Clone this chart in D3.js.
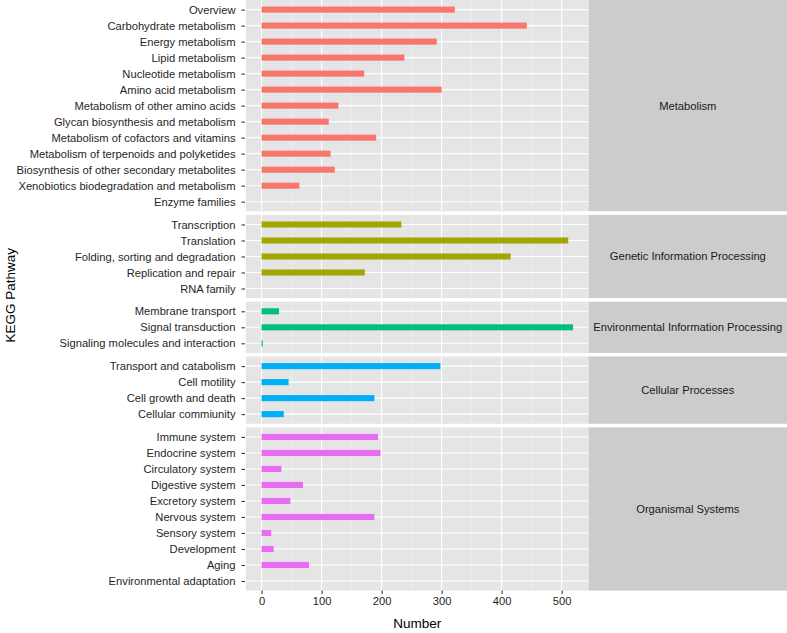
<!DOCTYPE html>
<html>
<head>
<meta charset="utf-8">
<script src="https://cdn.jsdelivr.net/npm/d3@7"></script>
<style>
  html, body { margin: 0; padding: 0; background: #ffffff; }
  svg { display: block; }
  text { font-family: "Liberation Sans", Arial, Helvetica, sans-serif; }
</style>
</head>
<body>
<svg id="chart" width="787" height="633"></svg>
<script>
// ---- Data ----
const groups = ["Metabolism", "Genetic Information Processing", "Environmental Information Processing", "Cellular Processes", "Organismal Systems"];
const groupColors = ["#F8766D", "#A3A500", "#00BF7D", "#00B0F6", "#E76BF3"];

const metabolismCats = ["Overview", "Carbohydrate metabolism", "Energy metabolism", "Lipid metabolism", "Nucleotide metabolism", "Amino acid metabolism", "Metabolism of other amino acids", "Glycan biosynthesis and metabolism", "Metabolism of cofactors and vitamins", "Metabolism of terpenoids and polyketides", "Biosynthesis of other secondary metabolites", "Xenobiotics biodegradation and metabolism", "Enzyme families"];
const metabolismVals = [322, 442, 292, 238, 171, 300, 128, 112, 191, 115, 122, 63, 0];

const geneticCats = ["Transcription", "Translation", "Folding, sorting and degradation", "Replication and repair", "RNA family"];
const geneticVals = [233, 511, 415, 172, 0];

const environmentalCats = ["Membrane transport", "Signal transduction", "Signaling molecules and interaction"];
const environmentalVals = [29, 519, 2];

const cellularCats = ["Transport and catabolism", "Cell motility", "Cell growth and death", "Cellular commiunity"];
const cellularVals = [298, 45, 188, 37];

const organismalCats = ["Immune system", "Endocrine system", "Circulatory system", "Digestive system", "Excretory system", "Nervous system", "Sensory system", "Development", "Aging", "Environmental adaptation"];
const organismalVals = [194, 198, 33, 69, 48, 188, 16, 20, 79, 0];

const xTicks = [0, 100, 200, 300, 400, 500];
const xMinor = [50, 150, 250, 350, 450];
const xTitle = "Number";
const yTitle = "KEGG Pathway";

const groupCats = [metabolismCats, geneticCats, environmentalCats, cellularCats, organismalCats];
const groupVals = [metabolismVals, geneticVals, environmentalVals, cellularVals, organismalVals];

// ---- Layout ----
const svg = d3.select("#chart");
const panelLeft = 246, panelRight = 588.6;
const stripRight = 787;
const plotTop = 0, plotBottom = 590.6;
const gap = 3.6;
const pad = 0.6;
const fontSize = "11.2px";

const maxVal = d3.max(groupVals.flat());
const expand = maxVal * 0.05;
const x = d3.scaleLinear().domain([-expand, maxVal + expand]).range([panelLeft, panelRight]);

const totalUnits = d3.sum(groupCats, c => c.length - 1 + 2 * pad);
const unit = (plotBottom - plotTop - gap * (groups.length - 1)) / totalUnits;

let yCursor = plotTop;
const panels = groups.map((g, i) => {
  const cats = groupCats[i];
  const h = (cats.length - 1 + 2 * pad) * unit;
  const top = yCursor, bottom = yCursor + h;
  yCursor = bottom + gap;
  const y = d3.scalePoint().domain(cats).range([top, bottom]).padding(pad);
  return { name: g, cats, vals: groupVals[i], color: groupColors[i], top, bottom, y };
});

const axisTextColor = "#1F1F1F";

panels.forEach(p => {
  const gp = svg.append("g");
  gp.append("rect").attr("x", panelLeft).attr("y", p.top)
    .attr("width", panelRight - panelLeft).attr("height", p.bottom - p.top)
    .attr("fill", "#E5E5E5");
  gp.selectAll("line.minor").data(xMinor).enter().append("line")
    .attr("x1", d => x(d)).attr("x2", d => x(d))
    .attr("y1", p.top).attr("y2", p.bottom)
    .attr("stroke", "#F2F2F2").attr("stroke-width", 0.6);
  gp.selectAll("line.majorx").data(xTicks).enter().append("line")
    .attr("x1", d => x(d)).attr("x2", d => x(d))
    .attr("y1", p.top).attr("y2", p.bottom)
    .attr("stroke", "#ffffff").attr("stroke-width", 1.07);
  gp.selectAll("line.majory").data(p.cats).enter().append("line")
    .attr("x1", panelLeft).attr("x2", panelRight)
    .attr("y1", d => p.y(d)).attr("y2", d => p.y(d))
    .attr("stroke", "#ffffff").attr("stroke-width", 1.07);
  const bh = p.y.step() * 0.38;
  gp.selectAll("rect.bar").data(p.cats.map((c, j) => ({ c, v: p.vals[j] })).filter(d => d.v > 0))
    .enter().append("rect")
    .attr("x", x(0)).attr("y", d => p.y(d.c) - bh / 2)
    .attr("width", d => x(d.v) - x(0)).attr("height", bh)
    .attr("fill", p.color);
  const yAxis = d3.axisLeft(p.y).tickSize(3.5).tickPadding(6);
  const ga = svg.append("g").attr("transform", `translate(${panelLeft - 1},0)`).call(yAxis);
  ga.select(".domain").remove();
  ga.selectAll(".tick line").attr("stroke", "#333333").attr("stroke-width", 1.07);
  ga.selectAll(".tick text").attr("fill", axisTextColor).attr("font-size", fontSize)
    .attr("font-family", "'Liberation Sans', Arial, sans-serif");
  svg.append("rect").attr("x", panelRight).attr("y", p.top)
    .attr("width", stripRight - panelRight).attr("height", p.bottom - p.top)
    .attr("fill", "#CCCCCC");
  svg.append("text").attr("x", (panelRight + stripRight) / 2).attr("y", (p.top + p.bottom) / 2)
    .attr("dy", "0.35em").attr("text-anchor", "middle")
    .attr("font-size", fontSize).attr("fill", "#1A1A1A").text(p.name);
});

const xAxis = d3.axisBottom(x).tickValues(xTicks).tickSize(3.5).tickPadding(3);
const gx = svg.append("g").attr("transform", `translate(0,${plotBottom})`).call(xAxis);
gx.select(".domain").remove();
gx.selectAll(".tick line").attr("stroke", "#333333").attr("stroke-width", 1.07);
gx.selectAll(".tick text").attr("fill", axisTextColor).attr("font-size", fontSize)
  .attr("font-family", "'Liberation Sans', Arial, sans-serif");

svg.append("text").attr("x", (panelLeft + panelRight) / 2).attr("y", 628)
  .attr("text-anchor", "middle").attr("font-size", "13.5px").attr("fill", "#000000").text(xTitle);
svg.append("text").attr("transform", `translate(14.5,${(plotTop + plotBottom) / 2}) rotate(-90)`)
  .attr("text-anchor", "middle").attr("font-size", "13.5px").attr("fill", "#000000").text(yTitle);
</script>
</body>
</html>
